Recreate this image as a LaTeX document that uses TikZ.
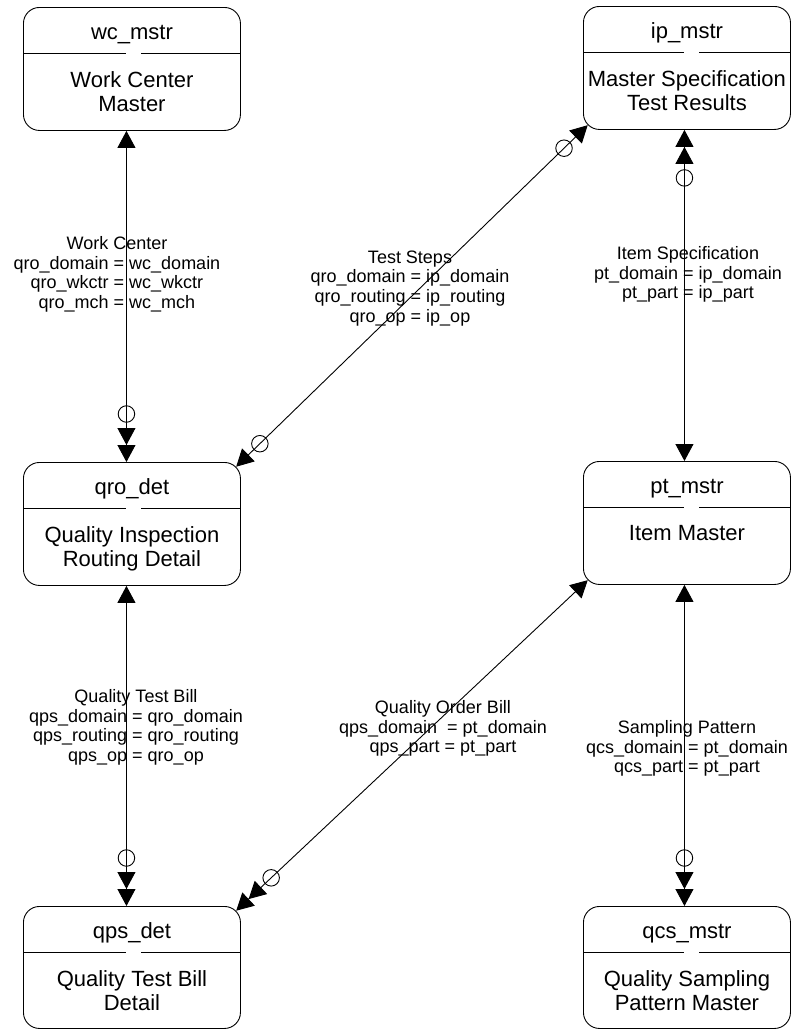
\documentclass[tikz,border=0pt]{standalone}
\usepackage{fontspec}
\setmainfont{Liberation Sans}
\usetikzlibrary{arrows.meta,calc}
\begin{document}
\begin{tikzpicture}[x=1pt,y=-1pt,
  tbox/.style={draw, line width=0.9pt, rounded corners=16pt, minimum width=217pt, minimum height=123pt, inner sep=0pt, anchor=north west},
  rbox/.style={tbox, minimum width=207pt},
  ttl/.style={font=\fontsize{22}{24}\selectfont, inner sep=0pt, anchor=base},
  body/.style={font=\fontsize{22}{24}\selectfont, align=center, inner sep=0pt, anchor=north},
  lbl/.style={font=\fontsize{18}{19.6}\selectfont, align=center, inner sep=0pt, anchor=north},
  divider/.style={line width=0.9pt},
  conn/.style={line width=0.9pt},
  zc/.style={circle, draw, line width=0.9pt, minimum size=16.5pt, inner sep=0pt},
  one-one/.style={{Triangle[length=17pt,width=18pt,sep=0pt]}-{Triangle[length=17pt,width=18pt,sep=0pt]}},
  one-two/.style={{Triangle[length=17pt,width=18pt,sep=0pt]}-{Triangle[length=17pt,width=18pt,sep=0pt]Triangle[length=17pt,width=18pt,sep=0pt]}},
  two-one/.style={{Triangle[length=17pt,width=18pt,sep=0pt]Triangle[length=17pt,width=18pt,sep=0pt]}-{Triangle[length=17pt,width=18pt,sep=0pt]}}
]
\path[fill=white, use as bounding box] (0,0) rectangle (791,1029);

% boxes
\node[tbox] (wc)  at (23,7) {};
\node[rbox] (ip)  at (583,6) {};
\node[tbox] (qro) at (23,462) {};
\node[rbox] (pt)  at (583,461) {};
\node[tbox, minimum height=122pt] (qps) at (23,906) {};
\node[rbox, minimum height=122pt] (qcs) at (583,906) {};

% titles
\node[ttl] (wcA)  at ($(wc.north)+(0,32)$)  {wc\_mstr};
\node[ttl] (ipA)  at ($(ip.north)+(0,32)$)  {ip\_mstr};
\node[ttl] (qroA) at ($(qro.north)+(0,32)$) {qro\_det};
\node[ttl] (ptA)  at ($(pt.north)+(0,32)$)  {pt\_mstr};
\node[ttl] (qpsA) at ($(qps.north)+(0,32)$) {qps\_det};
\node[ttl] (qcsA) at ($(qcs.north)+(0,32)$) {qcs\_mstr};

% dividers (with small gap)
\foreach \b in {wc,qro,qps}{
  \draw[divider] ($(\b.north west)+(0,46)$) -- ($(\b.north west)+(103,46)$);
  \draw[divider] ($(\b.north west)+(118,46)$) -- ($(\b.north east)+(0,46)$);
}
\foreach \b in {ip,pt,qcs}{
  \draw[divider] ($(\b.north west)+(0,46)$) -- ($(\b.north west)+(101,46)$);
  \draw[divider] ($(\b.north west)+(116,46)$) -- ($(\b.north east)+(0,46)$);
}

% bodies
\node[body] (wcB)  at ($(wc.north)+(0,64.5)$)  {Work Center\\Master};
\node[body] (ipB)  at ($(ip.north)+(0,64.5)$)  {Master Specification\\Test Results};
\node[body] (qroB) at ($(qro.north)+(0,64.5)$) {Quality Inspection\\Routing Detail};
\node[body] (ptB)  at ($(pt.north)+(0,64.5)$)  {Item Master};
\node[body] (qpsB) at ($(qps.north)+(0,64.5)$) {Quality Test Bill\\Detail};
\node[body] (qcsB) at ($(qcs.north)+(0,64.5)$) {Quality Sampling\\Pattern Master};

% connector end points
\coordinate (wcS)  at ([xshift=-5.5pt]wc.south);
\coordinate (qroN) at ([xshift=-5.5pt]qro.north);
\coordinate (qroS) at ([xshift=-5.5pt]qro.south);
\coordinate (qpsN) at ([xshift=-5.5pt]qps.north);
\coordinate (ipS)  at ([xshift=-2.5pt]ip.south);
\coordinate (ptN)  at ([xshift=-2.5pt]pt.north);
\coordinate (ptS)  at ([xshift=-2.5pt]pt.south);
\coordinate (qcsN) at ([xshift=-2.5pt]qcs.north);
\coordinate (qroNE) at ([shift={(-4.7pt,-4.7pt)}]qro.north east);
\coordinate (ipSW)  at ([shift={(4.7pt,4.7pt)}]ip.south west);
\coordinate (qpsNE) at ([shift={(-4.7pt,-4.7pt)}]qps.north east);
\coordinate (ptSW)  at ([shift={(4.7pt,4.7pt)}]pt.south west);

% connectors
\draw[conn, one-two] (wcS) -- (qroN);
\node[zc] (z1) at ($(qroN)!48pt!(wcS)$) {};

\draw[conn, two-one] (ipS) -- (ptN);
\node[zc] (z2) at ($(ipS)!48pt!(ptN)$) {};

\draw[conn, one-two] (qroS) -- (qpsN);
\node[zc] (z3) at ($(qpsN)!48pt!(qroS)$) {};

\draw[conn, one-two] (ptS) -- (qcsN);
\node[zc] (z4) at ($(qcsN)!48pt!(ptS)$) {};

\draw[conn, one-one] (qroNE) -- (ipSW);
\node[zc] (z5) at ($(qroNE)!33pt!(ipSW)$) {};
\node[zc] (z6) at ($(ipSW)!33pt!(qroNE)$) {};

\draw[conn, two-one] (qpsNE) -- (ptSW);
\node[zc] (z7) at ($(qpsNE)!48pt!(ptSW)$) {};

% labels
\node[lbl] (l1) at (117,236.5) {Work Center\\qro\_domain = wc\_domain\\qro\_wkctr = wc\_wkctr\\qro\_mch = wc\_mch};
\node[lbl] (l2) at (410,250.5) {Test Steps\\qro\_domain = ip\_domain\\qro\_routing = ip\_routing\\qro\_op = ip\_op};
\node[lbl] (l3) at (688,246.5) {Item Specification\\pt\_domain = ip\_domain\\pt\_part = ip\_part};
\node[lbl] (l4) at (136,689.5) {Quality Test Bill\\qps\_domain = qro\_domain\\qps\_routing = qro\_routing\\qps\_op = qro\_op};
\node[lbl] (l5) at (443,700.5) {Quality Order Bill\\qps\_domain~~= pt\_domain\\qps\_part = pt\_part};
\node[lbl] (l6) at (687,720.5) {Sampling Pattern\\qcs\_domain = pt\_domain\\qcs\_part = pt\_part};
\end{tikzpicture}
\end{document}
